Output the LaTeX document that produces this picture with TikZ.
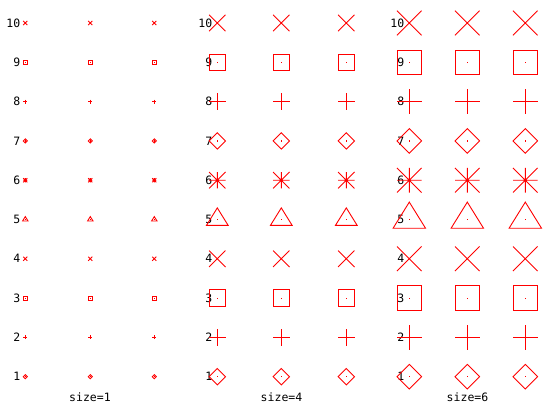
\documentclass[tikz,border=0pt]{standalone}
\usepackage{fontspec}
\setmonofont{DejaVu Sans Mono}
\tikzset{
  mk/.style={draw=red, line width=0.9pt, line cap=butt},
  lbl/.style={font=\ttfamily\fontsize{11.5}{12}\selectfont, text=black, inner sep=0pt}
}
\newcommand\mkdot[2]{\fill[red] (#1-0.6,#2-0.6) rectangle (#1+0.6,#2+0.6);}
\newcommand\mkmarker[4]{%
  \pgfmathsetmacro\mh{2.05*#4}%
  \ifcase#1\relax
  \or \draw[mk] (#2-\mh,#3) -- (#2,#3-\mh) -- (#2+\mh,#3) -- (#2,#3+\mh) -- cycle; \mkdot{#2}{#3}%
  \or \draw[mk] (#2-\mh,#3) -- (#2+\mh,#3) (#2,#3-\mh) -- (#2,#3+\mh);%
  \or \draw[mk] (#2-\mh,#3-\mh) rectangle (#2+\mh,#3+\mh); \mkdot{#2}{#3}%
  \or \draw[mk] (#2-\mh,#3-\mh) -- (#2+\mh,#3+\mh) (#2-\mh,#3+\mh) -- (#2+\mh,#3-\mh);%
  \or \draw[mk] (#2,#3-2.9*#4) -- (#2+2.7*#4,#3+1.45*#4) -- (#2-2.7*#4,#3+1.45*#4) -- cycle; \mkdot{#2}{#3}%
  \or \draw[mk] (#2-\mh,#3) -- (#2+\mh,#3) (#2,#3-\mh) -- (#2,#3+\mh)
        (#2-\mh,#3-\mh) -- (#2+\mh,#3+\mh) (#2-\mh,#3+\mh) -- (#2+\mh,#3-\mh);
      \fill[red] (#2,#3) circle (1.6);%
  \fi}
\begin{document}
\begin{tikzpicture}[x=1pt,y=-1pt]
\useasboundingbox (0,0) rectangle (559,412);
\fill[white] (0,0) rectangle (559,412);
\foreach \k in {1,...,10}{
  \pgfmathsetmacro\yy{23+(10-\k)*39.3}
  \pgfmathtruncatemacro\mtype{mod(\k-1,6)+1}
  \node[lbl, anchor=east] (la\k) at (20.5,\yy) {\k};
  \node[lbl, anchor=east] (lb\k) at (212.5,\yy) {\k};
  \node[lbl, anchor=east] (lc\k) at (404.5,\yy) {\k};
  \foreach \x in {25.3,90.3,154.3}{\mkmarker{\mtype}{\x}{\yy}{1}}
  \foreach \x in {217.3,281.3,346.3}{\mkmarker{\mtype}{\x}{\yy}{4}}
  \foreach \x in {409.3,467.3,525.3}{\mkmarker{\mtype}{\x}{\yy}{6}}
}
\node[lbl] (s1) at (90,397) {size=1};
\node[lbl] (s4) at (281.5,397) {size=4};
\node[lbl] (s6) at (467.5,397) {size=6};
\end{tikzpicture}
\end{document}
